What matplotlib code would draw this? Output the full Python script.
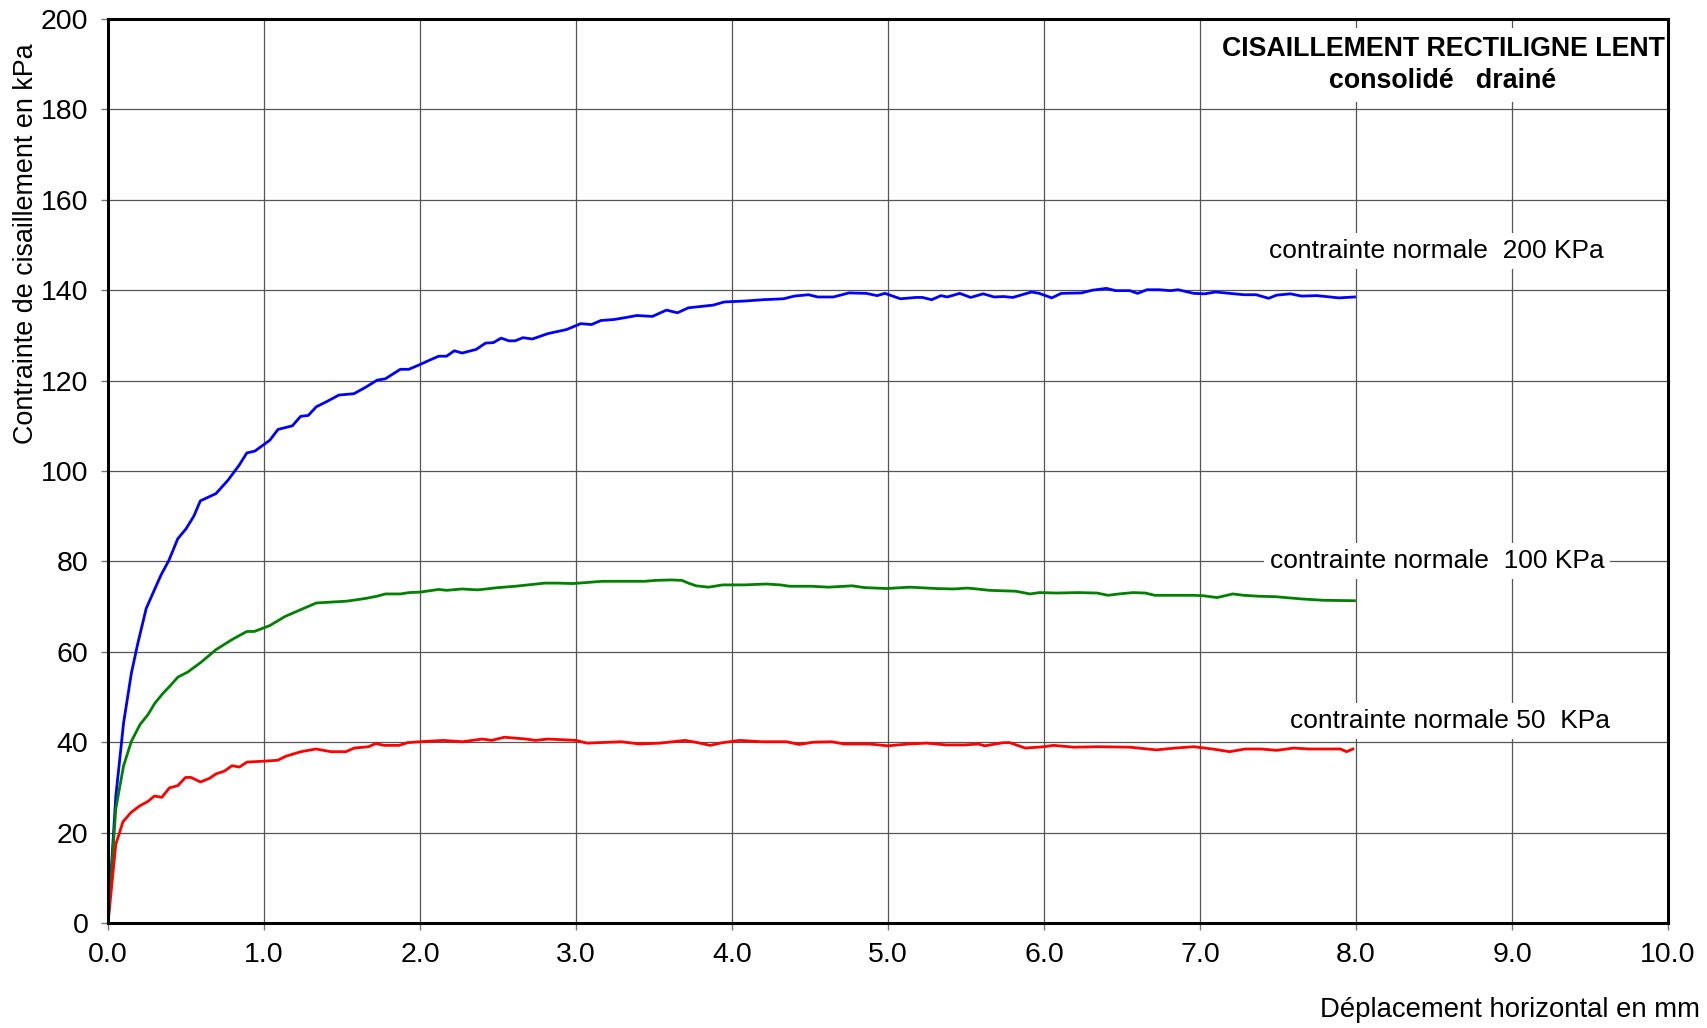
import matplotlib
matplotlib.use("Agg")
import matplotlib.pyplot as plt

plt.rcParams['font.family'] = ['Liberation Sans', 'DejaVu Sans']

# ---- data ----
x_200 = [0, 0.05, 0.1, 0.15, 0.19, 0.245, 0.3, 0.34, 0.39, 0.447, 0.5, 0.55, 0.592, 0.692, 0.77,
         0.841, 0.89, 0.941, 1.037, 1.09, 1.182, 1.235, 1.284, 1.335, 1.41, 1.48, 1.576, 1.65, 1.725,
         1.778, 1.874, 1.928, 1.99, 2.06, 2.12, 2.17, 2.22, 2.27, 2.36, 2.42, 2.47, 2.52, 2.57, 2.61,
         2.66, 2.72, 2.82, 2.94, 3.03, 3.10, 3.16, 3.24, 3.31, 3.39, 3.49, 3.58, 3.65, 3.72, 3.80,
         3.88, 3.95, 4.08, 4.20, 4.33, 4.40, 4.49, 4.55, 4.65, 4.75, 4.86, 4.93, 4.98, 5.08, 5.18,
         5.22, 5.28, 5.34, 5.38, 5.46, 5.53, 5.61, 5.68, 5.74, 5.80, 5.92, 5.97, 6.05, 6.11, 6.24,
         6.31, 6.40, 6.46, 6.55, 6.60, 6.66, 6.74, 6.81, 6.86, 6.96, 7.03, 7.10, 7.19, 7.28, 7.36,
         7.44, 7.49, 7.58, 7.65, 7.75, 7.89, 7.99]
y_200 = [0, 28, 44.3, 55.3, 61.7, 69.6, 73.9, 77, 80.2, 85.0, 87.2, 90, 93.4, 95.0, 98,
         101.3, 104.0, 104.4, 106.8, 109.2, 110.0, 112.1, 112.3, 114.2, 115.5, 116.8, 117.1, 118.5, 120.1,
         120.4, 122.5, 122.5, 123.4, 124.5, 125.4, 125.4, 126.6, 126.1, 126.9, 128.3, 128.4, 129.4, 128.8, 128.8,
         129.5, 129.2, 130.4, 131.3, 132.6, 132.4, 133.3, 133.5, 133.9, 134.4, 134.2, 135.6, 135.0, 136.1, 136.4,
         136.7, 137.4, 137.6, 137.9, 138.1, 138.7, 139.0, 138.5, 138.5, 139.4, 139.3, 138.8, 139.3, 138.1, 138.4,
         138.4, 137.9, 138.8, 138.5, 139.3, 138.4, 139.2, 138.5, 138.6, 138.4, 139.6, 139.3, 138.3, 139.3, 139.4,
         140.0, 140.4, 139.9, 139.9, 139.3, 140.1, 140.1, 139.9, 140.1, 139.3, 139.2, 139.6, 139.3, 139.0, 139.0,
         138.2, 138.9, 139.2, 138.7, 138.8, 138.3, 138.5]

x_100 = [0, 0.05, 0.1, 0.15, 0.205, 0.256, 0.30, 0.352, 0.394, 0.448, 0.51, 0.597, 0.693, 0.80, 0.89,
         0.938, 1.037, 1.134, 1.22, 1.335, 1.43, 1.53, 1.65, 1.725, 1.778, 1.874, 1.93, 2.0, 2.12, 2.17,
         2.27, 2.37, 2.50, 2.61, 2.72, 2.80, 2.88, 2.98, 3.17, 3.44, 3.51, 3.61, 3.68, 3.72, 3.77,
         3.85, 3.94, 4.08, 4.22, 4.31, 4.37, 4.51, 4.62, 4.77, 4.85, 4.99, 5.14, 5.31, 5.42, 5.51,
         5.57, 5.65, 5.82, 5.91, 5.97, 6.08, 6.22, 6.34, 6.41, 6.48, 6.57, 6.65, 6.71, 6.85, 6.96,
         7.02, 7.11, 7.21, 7.28, 7.37, 7.48, 7.65, 7.79, 7.99]
y_100 = [0, 25.3, 34.8, 40.2, 43.9, 46.1, 48.6, 50.8, 52.3, 54.4, 55.5, 57.7, 60.5, 62.8, 64.5,
         64.5, 65.8, 67.8, 69.1, 70.8, 71.0, 71.2, 71.8, 72.3, 72.8, 72.8, 73.1, 73.2, 73.8, 73.6,
         73.9, 73.7, 74.2, 74.5, 74.9, 75.2, 75.2, 75.1, 75.6, 75.6, 75.8, 75.9, 75.8, 75.2, 74.6,
         74.3, 74.8, 74.8, 75.0, 74.8, 74.5, 74.5, 74.3, 74.6, 74.2, 74.0, 74.3, 74.0, 73.9, 74.1,
         73.9, 73.6, 73.4, 72.8, 73.1, 73.0, 73.1, 73.0, 72.5, 72.8, 73.1, 73.0, 72.5, 72.5, 72.5,
         72.4, 72.0, 72.8, 72.5, 72.3, 72.2, 71.7, 71.4, 71.3]

x_50 = [0, 0.05, 0.096, 0.149, 0.203, 0.256, 0.298, 0.345, 0.394, 0.448, 0.497, 0.533, 0.593, 0.65,
        0.693, 0.746, 0.795, 0.842, 0.891, 0.998, 1.087, 1.14, 1.237, 1.333, 1.429, 1.525, 1.578, 1.67,
        1.716, 1.77, 1.866, 1.92, 2.0, 2.15, 2.27, 2.40, 2.46, 2.54, 2.68, 2.74, 2.82, 3.0, 3.07,
        3.29, 3.41, 3.54, 3.70, 3.78, 3.86, 3.94, 4.05, 4.19, 4.35, 4.43, 4.52, 4.64, 4.72, 4.88,
        5.0, 5.13, 5.25, 5.37, 5.49, 5.58, 5.62, 5.74, 5.78, 5.88, 6.0, 6.06, 6.19, 6.35, 6.55,
        6.72, 6.84, 6.96, 7.08, 7.19, 7.29, 7.39, 7.49, 7.60, 7.70, 7.90, 7.94, 7.98]
y_50 = [0, 17.4, 22.4, 24.5, 25.9, 26.9, 28.1, 27.8, 29.9, 30.4, 32.2, 32.2, 31.2, 32.0,
        33.0, 33.6, 34.8, 34.5, 35.6, 35.8, 36.0, 36.9, 37.9, 38.5, 37.9, 37.9, 38.7, 39.0,
        39.7, 39.3, 39.3, 39.9, 40.1, 40.4, 40.1, 40.7, 40.4, 41.1, 40.7, 40.4, 40.7, 40.4, 39.8,
        40.1, 39.6, 39.8, 40.4, 39.9, 39.3, 39.9, 40.4, 40.1, 40.1, 39.5, 40.0, 40.1, 39.6, 39.6,
        39.2, 39.6, 39.8, 39.4, 39.4, 39.6, 39.2, 39.9, 39.9, 38.7, 39.0, 39.3, 38.9, 39.0, 38.9,
        38.3, 38.7, 39.0, 38.5, 37.9, 38.5, 38.5, 38.2, 38.7, 38.5, 38.5, 37.9, 38.5]

x_ticks = [0, 1, 2, 3, 4, 5, 6, 7, 8, 9, 10]
y_ticks = [0, 20, 40, 60, 80, 100, 120, 140, 160, 180, 200]

title_line1 = "CISAILLEMENT RECTILIGNE LENT"
title_line2 = "consolidé   drainé"
label_200 = "contrainte normale  200 KPa"
label_100 = "contrainte normale  100 KPa"
label_50 = "contrainte normale 50  KPa"
xlabel = "Déplacement horizontal en mm"
ylabel = "Contrainte de cisaillement en kPa"

# ---- figure ----
W, H = 1708, 1028
fig = plt.figure(figsize=(W / 100, H / 100), dpi=100)
L, R, T, B = 108, 1668, 19, 923
ax = fig.add_axes([L / W, 1 - B / H, (R - L) / W, (B - T) / H])

ax.set_xlim(0, 10)
ax.set_ylim(0, 200)
ax.set_xticks(x_ticks)
ax.set_yticks(y_ticks)
ax.set_xticklabels([f"{v:.1f}" for v in x_ticks])
ax.set_yticklabels([str(v) for v in y_ticks])
ax.grid(True, color='#555555', linewidth=0.9, zorder=0)
ax.set_axisbelow(True)
for s in ax.spines.values():
    s.set_linewidth(2.2)
    s.set_color('black')
    s.set_zorder(6)
ax.tick_params(axis='both', direction='out', length=5, width=1, color='#777777',
               labelsize=20.5, pad=9)

ax.plot(x_200, y_200, color='#0000ff', lw=2.0, zorder=3)
ax.plot(x_100, y_100, color='#008000', lw=2.0, zorder=3)
ax.plot(x_50, y_50, color='#ff0000', lw=2.0, zorder=3)

box = dict(facecolor='white', edgecolor='none', pad=4)


def px(xp, yp):
    return (xp - L) / (R - L), 1 - (yp - T) / (B - T)


ax.text(*px(1443, 49), title_line1, transform=ax.transAxes, ha='center', va='center',
        fontsize=19.3, fontweight='bold', bbox=dict(facecolor='white', edgecolor='none', pad=6), zorder=4)
ax.text(*px(1443, 81), title_line2, transform=ax.transAxes, ha='center', va='center',
        fontsize=19.3, fontweight='bold', bbox=dict(facecolor='white', edgecolor='none', pad=6), zorder=4)
ax.text(*px(1436, 251), label_200, transform=ax.transAxes, ha='center', va='center',
        fontsize=19, bbox=box, zorder=4)
ax.text(*px(1437, 561), label_100, transform=ax.transAxes, ha='center', va='center',
        fontsize=19, bbox=box, zorder=4)
ax.text(*px(1450, 721), label_50, transform=ax.transAxes, ha='center', va='center',
        fontsize=19, bbox=box, zorder=4)

fig.text(1700 / W, 1 - 1010 / H, xlabel, ha='right', va='center', fontsize=19.8)
fig.text(26 / W, 1 - 244 / H, ylabel, ha='center', va='center', rotation=90, fontsize=19.4)

fig.savefig("out.png", dpi=100)
